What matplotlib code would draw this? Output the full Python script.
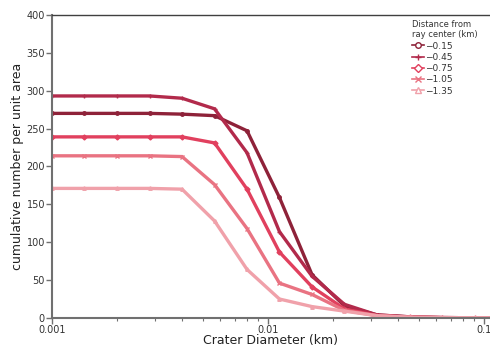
import numpy as np
import matplotlib.pyplot as plt
from matplotlib.ticker import FixedLocator, NullFormatter

# crater diameters (km), sqrt(2) bins
diameter = [0.001, 0.00141, 0.002, 0.00283, 0.004, 0.00566, 0.008, 0.0113,
            0.016, 0.0226, 0.032, 0.0453, 0.064, 0.0905, 0.128]

labels = ["\u22120.15", "\u22120.45", "\u22120.75", "\u22121.05", "\u22121.35"]
d015 = [270, 270, 270, 270, 269, 267, 247, 159, 57, 16, 4, 1.5, 0.5, 0.3, 0]
d045 = [293, 293, 293, 293, 290, 276, 218, 114, 55, 18, 4, 1.5, 0.5, 0.3, 0]
d075 = [239, 239, 239, 239, 239, 231, 170, 87, 41, 12, 3, 1, 0.5, 0.3, 0]
d105 = [214, 214, 214, 214, 213, 176, 118, 46, 31, 10, 3, 1, 0.5, 0.3, 0]
d135 = [171, 171, 171, 171, 170, 128, 64, 25, 15, 9, 3, 1, 0.5, 0.3, 0]
series = [d015, d045, d075, d105, d135]

colors = ["#8e2239", "#b22a4b", "#e1405e", "#e97382", "#f0a1aa"]
markers = ["o", "+", "D", "x", "^"]

fig = plt.figure(figsize=(4.9, 3.46), dpi=100)
ax = fig.add_axes([0.106, 0.081, 0.894, 0.876])

for lab, vals, c, m in zip(labels, series, colors, markers):
    ax.plot(diameter, vals, color=c, lw=2.4, marker=m, ms=2.5, mew=1,
            solid_joinstyle="miter", label=lab)

ax.set_xscale("log")
ax.set_xlim(0.001, 0.1066)
ax.set_ylim(0, 400)
ax.set_yticks(range(0, 401, 50))
ax.set_xticks([0.001, 0.01, 0.1])
ax.set_xticklabels(["0.001", "0.01", "0.1"])
ax.xaxis.set_minor_locator(FixedLocator([k * 10.0**e for e in (-3, -2) for k in range(2, 10)]))
ax.xaxis.set_minor_formatter(NullFormatter())

for s in ["left", "bottom"]:
    ax.spines[s].set_color("#707070")
    ax.spines[s].set_linewidth(1.5)
ax.spines["top"].set_color("#404040")
ax.spines["top"].set_linewidth(1.0)
ax.spines["right"].set_visible(False)
ax.tick_params(axis="both", which="major", direction="out", length=4, width=1,
               color="#707070", labelsize=7, labelcolor="#333333", pad=1)
ax.tick_params(axis="x", which="minor", direction="out", length=2.5, width=0.8,
               color="#707070")

ax.set_xlabel("Crater Diameter (km)", fontsize=9, color="#222222", labelpad=-1)
ax.set_ylabel("cumulative number per unit area", fontsize=9, color="#222222", labelpad=2)

# legend with open markers
handles = []
for lab, c, m in zip(labels, colors, markers):
    h, = ax.plot([], [], color=c, lw=1.2, marker=m, ms=4, mfc="white", mec=c, mew=1)
    handles.append(h)
leg = ax.legend(handles, labels, title="Distance from\nray center (km)",
                loc="upper right", bbox_to_anchor=(0.99, 1.01), frameon=False,
                fontsize=6.5, title_fontsize=6, handlelength=1.3, handletextpad=0.2,
                labelspacing=0.25, markerfirst=True)
leg._legend_box.align = "left"
for t in leg.get_texts():
    t.set_color("#333333")
leg.get_title().set_color("#333333")

fig.savefig("out.png", dpi=100)
